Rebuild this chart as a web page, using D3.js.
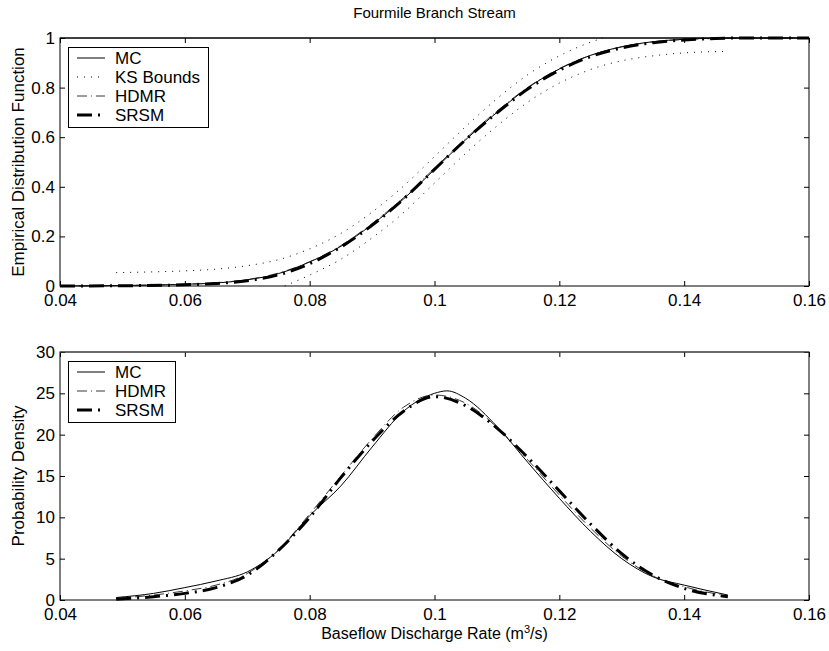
<!DOCTYPE html>
<html lang="en">
<head>
<meta charset="utf-8">
<script src="https://d3js.org/d3.v7.min.js"></script>
<style>
  body { margin: 0; background: #fff; }
  svg { font-family: "Liberation Sans", Arial, Helvetica, sans-serif; }
  .tick text { font-size: 17px; fill: #000; }
  .tick line { stroke: #000; }
</style>
</head>
<body>
<div id="graph"></div>
<script>

// ---- data ----
var xTicks = [0.04, 0.06, 0.08, 0.1, 0.12, 0.14, 0.16];
var cdfTicks = [0, 0.2, 0.4, 0.6, 0.8, 1];
var pdfTicks = [0, 5, 10, 15, 20, 25, 30];

// empirical CDFs  [x, F]
var mcCdf = [[0.040,0],[0.050,0.002],[0.060,0.007],[0.065,0.012],[0.070,0.025],[0.075,0.050],[0.080,0.097],
  [0.085,0.160],[0.090,0.248],[0.095,0.350],[0.100,0.470],[0.105,0.590],[0.110,0.700],[0.115,0.800],
  [0.120,0.875],[0.125,0.930],[0.130,0.965],[0.135,0.985],[0.140,0.995],[0.145,0.999],[0.150,1],[0.160,1]];
var ksUpper = [[0.049,0.054],[0.055,0.057],[0.060,0.061],[0.065,0.068],[0.070,0.082],[0.075,0.106],[0.080,0.150],
  [0.085,0.212],[0.090,0.298],[0.095,0.402],[0.100,0.522],[0.105,0.643],[0.110,0.755],[0.115,0.853],
  [0.120,0.928],[0.125,0.983],[0.127,1]];
var ksLower = [[0.076,0],[0.080,0.044],[0.085,0.108],[0.090,0.194],[0.095,0.295],[0.100,0.415],[0.105,0.535],
  [0.110,0.645],[0.115,0.742],[0.120,0.818],[0.125,0.873],[0.130,0.908],[0.135,0.928],[0.140,0.940],[0.147,0.946]];
var hdmrCdf = [[0.040,0],[0.050,0.002],[0.060,0.007],[0.065,0.013],[0.070,0.026],[0.075,0.052],[0.080,0.098],
  [0.085,0.163],[0.090,0.252],[0.095,0.355],[0.100,0.475],[0.105,0.595],[0.110,0.705],[0.115,0.802],
  [0.120,0.877],[0.125,0.930],[0.130,0.964],[0.135,0.984],[0.140,0.994],[0.145,0.998],[0.150,1],[0.160,1]];
var srsmCdf = [[0.040,0],[0.050,0.001],[0.060,0.005],[0.065,0.010],[0.070,0.021],[0.075,0.045],[0.080,0.090],
  [0.085,0.157],[0.090,0.245],[0.095,0.350],[0.100,0.470],[0.105,0.590],[0.110,0.698],[0.115,0.795],
  [0.120,0.870],[0.125,0.925],[0.130,0.960],[0.135,0.981],[0.140,0.992],[0.145,0.998],[0.150,1],[0.160,1]];

// probability densities  [x, f]
var mcPdf = [[0.049,0.3],[0.055,0.8],[0.060,1.5],[0.065,2.3],[0.070,3.4],[0.075,6.0],[0.080,10.2],[0.085,13.8],
  [0.090,18.5],[0.095,22.8],[0.100,25.0],[0.102,25.3],[0.105,24.4],[0.110,21.0],[0.115,16.6],[0.120,12.3],
  [0.125,8.3],[0.130,5.0],[0.135,2.8],[0.140,1.8],[0.147,0.6]];
var hdmrPdf = [[0.049,0.2],[0.055,0.6],[0.060,1.1],[0.065,1.8],[0.070,3.2],[0.075,6.1],[0.080,10.4],[0.085,15.0],
  [0.090,19.5],[0.095,23.3],[0.100,24.8],[0.105,23.8],[0.110,20.9],[0.115,16.9],[0.120,12.7],[0.125,8.7],
  [0.130,5.3],[0.135,2.9],[0.140,1.6],[0.147,0.5]];
var srsmPdf = [[0.049,0.1],[0.055,0.4],[0.060,0.8],[0.065,1.5],[0.070,3.0],[0.075,6.0],[0.080,10.0],[0.085,14.8],
  [0.090,19.2],[0.095,22.8],[0.100,24.6],[0.105,23.5],[0.110,20.8],[0.115,17.2],[0.120,13.2],[0.125,9.2],
  [0.130,5.6],[0.135,3.0],[0.140,1.4],[0.147,0.4]];

// ---- styles ----
var styles = {
  MC:   { width: 1,   dash: null, color: '#000' },
  KS:   { width: 1,   dash: "1,6", color: '#000' },
  HDMR: { width: 0.9, dash: "10,4,1,4", color: '#222' },
  SRSM: { width: 3,   dash: "15,6,2,6", color: '#000' }
};

var W = 829, H = 651;
var left = 60, right = 809;
var svg = d3.select('#graph').append('svg').attr('width', W).attr('height', H);

var x = d3.scaleLinear().domain([0.04, 0.16]).range([left, right]);
var fmt = function(d){ return String(+d.toFixed(2)); };

function panel(top, bottom, yDomain, yTicks, ylabel, series, legendItems, legendW, topColor) {
  var y = d3.scaleLinear().domain(yDomain).range([bottom, top]);
  var g = svg.append('g');

  g.append('g').attr('transform', 'translate(0,' + bottom + ')')
    .call(d3.axisBottom(x).tickValues(xTicks).tickSize(-5).tickPadding(8).tickFormat(fmt))
    .call(function(s){ s.select('.domain').remove(); });
  g.append('g').attr('transform', 'translate(0,' + top + ')')
    .call(d3.axisTop(x).tickValues(xTicks).tickSize(-5).tickFormat(''))
    .call(function(s){ s.select('.domain').remove(); });
  g.append('g').attr('transform', 'translate(' + left + ',0)')
    .call(d3.axisLeft(y).tickValues(yTicks).tickSize(-5).tickPadding(5).tickFormat(fmt))
    .call(function(s){ s.select('.domain').remove(); });
  g.append('g').attr('transform', 'translate(' + right + ',0)')
    .call(d3.axisRight(y).tickValues(yTicks).tickSize(-5).tickFormat(''))
    .call(function(s){ s.select('.domain').remove(); });

  var line = d3.line().x(function(d){ return x(d[0]); }).y(function(d){ return y(d[1]); })
    .curve(d3.curveMonotoneX);

  series.forEach(function(s){
    var st = styles[s.style];
    g.append('path').datum(s.data)
      .attr('d', line)
      .attr('fill', 'none')
      .attr('stroke', st.color)
      .attr('stroke-width', st.width)
      .attr('stroke-dasharray', st.dash);
  });

  g.append('rect').attr('x', left).attr('y', top)
    .attr('width', right - left).attr('height', bottom - top)
    .attr('fill', 'none').attr('stroke', '#000').attr('stroke-width', 1);
  g.append('line').attr('x1', left).attr('x2', right).attr('y1', top).attr('y2', top)
    .attr('stroke', topColor).attr('stroke-width', 1.2);

  g.append('text')
    .attr('transform', 'translate(24,' + ((top + bottom) / 2) + ') rotate(-90)')
    .attr('text-anchor', 'middle').style('font-size', '17px').text(ylabel);

  // legend
  var lx = 68, ly = top + 9, rowH = 19;
  var lg = g.append('g');
  lg.append('rect').attr('x', lx + 0.5).attr('y', ly + 0.5)
    .attr('width', legendW).attr('height', legendItems.length * rowH + 4)
    .attr('fill', '#fff').attr('stroke', '#000');
  legendItems.forEach(function(name, i){
    var st = styles[name === 'KS Bounds' ? 'KS' : name];
    var cy = ly + 11 + i * rowH;
    lg.append('line').attr('x1', lx + 9).attr('x2', lx + 37).attr('y1', cy).attr('y2', cy)
      .attr('stroke', st.color).attr('stroke-width', st.width).attr('stroke-dasharray', st.dash);
    lg.append('text').attr('x', lx + 47).attr('y', cy + 6).style('font-size', '17px').text(name);
  });
}

panel(38, 286, [0, 1], cdfTicks, 'Empirical Distribution Function', [
  { data: ksUpper, style: 'KS' },
  { data: ksLower, style: 'KS' },
  { data: mcCdf, style: 'MC' },
  { data: hdmrCdf, style: 'HDMR' },
  { data: srsmCdf, style: 'SRSM' }
], ['MC', 'KS Bounds', 'HDMR', 'SRSM'], 140, '#000');

panel(352, 600, [0, 30], pdfTicks, 'Probability Density', [
  { data: mcPdf, style: 'MC' },
  { data: hdmrPdf, style: 'HDMR' },
  { data: srsmPdf, style: 'SRSM' }
], ['MC', 'HDMR', 'SRSM'], 107, '#555');

svg.append('text').attr('x', (left + right) / 2).attr('y', 18)
  .attr('text-anchor', 'middle').style('font-size', '15px').text('Fourmile Branch Stream');

var xl = svg.append('text').attr('x', (left + right) / 2).attr('y', 639)
  .attr('text-anchor', 'middle').style('font-size', '16px');
xl.append('tspan').text('Baseflow Discharge Rate (m');
xl.append('tspan').attr('dy', -6).style('font-size', '11px').text('3');
xl.append('tspan').attr('dy', 6).text('/s)');

</script>
</body>
</html>
